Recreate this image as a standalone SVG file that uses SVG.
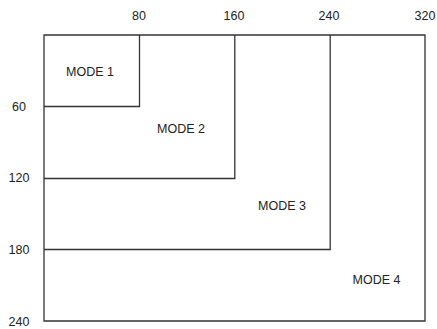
<svg xmlns="http://www.w3.org/2000/svg" width="437" height="329" viewBox="0 0 437 329">
<style>
.ln{fill:none;stroke:#333;stroke-width:1.3}
text{font-family:"Liberation Sans",Arial,sans-serif;font-size:12.5px;fill:#222}
.m{text-anchor:middle}
</style>
<rect width="437" height="329" fill="#fff"/>
<g id="connectors">
<path class="ln" d="M44,35 H425 V321 H44 Z"/>
<path class="ln" d="M139.5,35 V106.5 H44"/>
<path class="ln" d="M234.8,35 V178.5 H44"/>
<path class="ln" d="M330.2,35 V249.5 H44"/>
</g>
<g id="axis-x">
<text class="m" x="139" y="19.5">80</text>
<text class="m" x="234" y="19.5">160</text>
<text class="m" x="329" y="19.5">240</text>
<text class="m" x="425" y="19.5">320</text>
</g>
<g id="axis-y">
<text class="m" x="19" y="111">60</text>
<text class="m" x="19" y="182">120</text>
<text class="m" x="19" y="254">180</text>
<text class="m" x="19" y="326">240</text>
</g>
<g id="mode1"><text class="m" x="90" y="76">MODE 1</text></g>
<g id="mode2"><text class="m" x="181" y="132.5">MODE 2</text></g>
<g id="mode3"><text class="m" x="282" y="210">MODE 3</text></g>
<g id="mode4"><text class="m" x="376.5" y="284">MODE 4</text></g>
</svg>
